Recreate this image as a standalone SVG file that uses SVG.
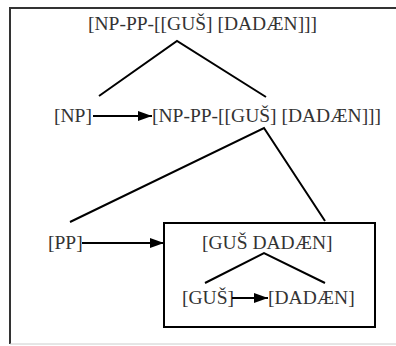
<svg xmlns="http://www.w3.org/2000/svg" width="396" height="346" viewBox="0 0 396 346">
<defs>
<marker id="ah" markerWidth="14" markerHeight="10" refX="14" refY="5" orient="auto" markerUnits="userSpaceOnUse">
<path d="M0,0 L14,5 L0,10 Z" fill="#000"/>
</marker>
<style>
.t{font-size:19.5px;fill:#333}
.ln{stroke:#000;stroke-width:2;fill:none}
.ar{stroke:#000;stroke-width:2;fill:none;marker-end:url(#ah)}
</style>
</defs>
<rect width="396" height="346" fill="#fff"/>
<g id="frame">
<line x1="10" y1="8" x2="396" y2="8" stroke="#333" stroke-width="2"/>
<line x1="10" y1="7" x2="10" y2="344" stroke="#333" stroke-width="2"/>
<line x1="10" y1="344" x2="396" y2="344" stroke="#ccc" stroke-width="1"/>
</g>
<g font-family="Liberation Serif, Times New Roman, serif">
<g id="top"><text class="t" x="88" y="30">[NP-PP-[[GUŠ] [DADÆN]]]</text></g>
<g id="np"><text class="t" x="54" y="122">[NP]</text></g>
<g id="np2"><text class="t" x="152" y="122">[NP-PP-[[GUŠ] [DADÆN]]]</text></g>
<g id="pp"><text class="t" x="48" y="249">[PP]</text></g>
<g id="box"><rect x="164" y="223" width="211" height="104" fill="none" stroke="#000" stroke-width="2"/>
<text class="t" x="202" y="249">[GUŠ DADÆN]</text></g>
<g id="gus"><text class="t" x="182" y="304">[GUŠ]</text></g>
<g id="dadaen"><text class="t" x="268" y="304">[DADÆN]</text></g>
</g>
<g id="connectors">
<polyline class="ln" points="99,96 177,41 266,97"/>
<line class="ar" x1="93" y1="116" x2="152" y2="116"/>
<polyline class="ln" points="70,222 264,128 325,221"/>
<line class="ar" x1="82" y1="243" x2="164" y2="243"/>
<polyline class="ln" points="205,283 264,253 325,283"/>
<line class="ar" x1="232" y1="298" x2="268" y2="298"/>
</g>
</svg>
